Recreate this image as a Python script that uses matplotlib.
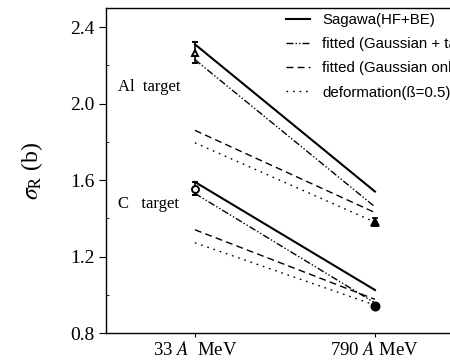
import matplotlib.pyplot as plt
from matplotlib.ticker import MultipleLocator

# energies (categorical positions 0 and 1)
energies = ['33 $\\mathit{A}$  MeV', '790 $\\mathit{A}$ MeV']
xpos = [0, 1]

# Al target
al_sagawa = [2.31, 1.54]
al_tail = [2.23, 1.46]
al_gauss = [1.86, 1.43]
al_deform = [1.795, 1.38]
al_exp = [2.265, 1.38]
al_err = [0.055, 0.02]

# C target
c_sagawa = [1.59, 1.025]
c_tail = [1.53, 0.957]
c_gauss = [1.34, 0.976]
c_deform = [1.272, 0.946]
c_exp = [1.555, 0.942]
c_err = [0.035, 0.01]

labels = ['Sagawa(HF+BE)', 'fitted (Gaussian + tail)',
          'fitted (Gaussian only)', 'deformation(\u00df=0.5)']

plt.rcParams['mathtext.fontset'] = 'stix'
serif = 'Liberation Serif'

fig = plt.figure(figsize=(4.5, 3.63), dpi=100)
ax = fig.add_axes([106/450, 1 - 333/363, (495 - 106)/450, (333 - 8)/363])

dashdotdot = (0, (5, 1.5, 1, 1.5, 1, 1.5))
for ys in [(al_sagawa, al_tail, al_gauss, al_deform),
           (c_sagawa, c_tail, c_gauss, c_deform)]:
    l1, = ax.plot(xpos, ys[0], color='black', lw=1.5, ls='-')
    l2, = ax.plot(xpos, ys[1], color='black', lw=1.0, ls=dashdotdot)
    l3, = ax.plot(xpos, ys[2], color='black', lw=1.0, ls=(0, (5, 3)))
    l4, = ax.plot(xpos, ys[3], color='black', lw=1.0, ls=(0, (1.2, 3.5)))

# 33 A MeV: open symbols, 790 A MeV: dark symbols
ax.errorbar(xpos[:1], al_exp[:1], yerr=al_err[:1], fmt='^', ms=5, mfc='white',
            mec='black', mew=1.4, ecolor='black', elinewidth=1.2, capsize=2.5)
ax.errorbar(xpos[1:], al_exp[1:], yerr=al_err[1:], fmt='^', ms=6, mfc='black',
            mec='black', mew=1.2, ecolor='black', elinewidth=1.2, capsize=2.5)
ax.errorbar(xpos[:1], c_exp[:1], yerr=c_err[:1], fmt='o', ms=5, mfc='white',
            mec='black', mew=1.4, ecolor='black', elinewidth=1.2, capsize=2.5)
ax.errorbar(xpos[1:], c_exp[1:], yerr=c_err[1:], fmt='o', ms=6, mfc='black',
            mec='black', mew=1.2, ecolor='black', elinewidth=1.2, capsize=2.5)

ax.text(-0.43, 2.086, 'Al  target', fontsize=12, family=serif, va='center')
ax.text(-0.43, 1.474, 'C   target', fontsize=12, family=serif, va='center')

ax.set_xlim(-0.494, 1.667)
ax.set_ylim(0.8, 2.5)
ax.set_xticks(xpos)
ax.set_xticklabels(energies)
ax.yaxis.set_major_locator(MultipleLocator(0.4))
ax.yaxis.set_minor_locator(MultipleLocator(0.2))
ax.tick_params(axis='y', which='major', direction='out', length=5, pad=3)
ax.tick_params(axis='y', which='minor', direction='in', length=2)
ax.tick_params(axis='x', direction='out', length=3, pad=3)
for lab in ax.get_yticklabels():
    lab.set_family(serif)
    lab.set_fontsize(14)
for lab in ax.get_xticklabels():
    lab.set_family(serif)
    lab.set_fontsize(13.5)
ax.set_ylabel('$\\sigma_{\\mathrm{R}}$ (b)', fontsize=17, family=serif, labelpad=18)
for s in ax.spines.values():
    s.set_linewidth(1.0)

# legend runs past the right edge, as in the cropped original
ax.legend([l1, l2, l3, l4], labels, loc='upper left',
          bbox_to_anchor=(286/450, 1 - 13/363), bbox_transform=fig.transFigure,
          frameon=False, handlelength=1.6, handletextpad=0.8,
          labelspacing=0.68, borderpad=0, borderaxespad=0,
          prop={'family': 'Liberation Sans', 'size': 10.8})

fig.savefig('out.png', dpi=100)
